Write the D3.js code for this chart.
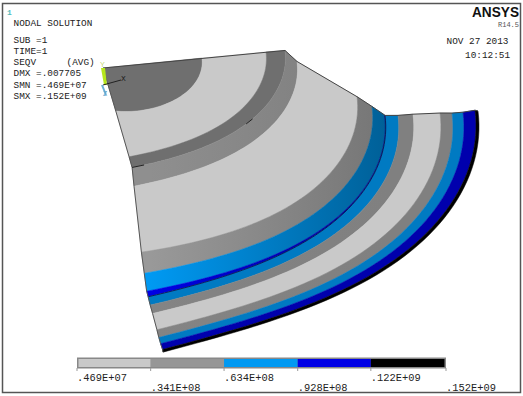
<!DOCTYPE html>
<html>
<head>
<meta charset="utf-8">
<script src="https://cdn.jsdelivr.net/npm/d3@7"></script>
<style>
html, body { margin: 0; padding: 0; background: #fff; }
svg { display: block; }
text { font-family: "Liberation Mono", monospace; fill: #222; }
</style>
</head>
<body>
<div id="chart"></div>
<script>
// Contour levels (legend)
const levelValues = [4.69e6, 3.41e7, 6.34e7, 9.28e7, 1.22e8, 1.52e8];
const levelLabels = [".469E+07", ".341E+08", ".634E+08", ".928E+08", ".122E+09", ".152E+09"];
const levelColors = ["#c9c9c9", "#969696", "#0099f2", "#0000e6", "#000000"];

const ringRadiusLeft  = [80, 163, 182, 194, 240, 258, 273, 282, 295, 310, 337, 349, 360, 372, 375];
const ringRadiusRight = [99, 163, 182, 194, 254, 269, 281.5, 282, 295, 310, 337, 349, 360, 372, 375];
// How far the surface has stepped down at that radius
const ringDrop = [-2, -3, -3, 9, 49, 60, 69.5, 70, 71, 71, 72, 73, 73, 72, 73];
// Contour level of each band
const bandLevel = [1, 0, 1, 1, 0, 1, 2, 3, 2, 1, 0, 1, 2, 3, 4];
// Lighting on each band, left end and right end
const bandShadeLeft  = [0.74, 1, 0.74, 0.95, 1, 1.02, 1, 1, 0.8, 0.88, 1, 0.88, 0.8, 0.75, 1];
const bandShadeRight = [0.74, 1, 0.74, 0.82, 1, 0.78, 0.62, 0.6, 0.8, 0.85, 1, 0.85, 0.8, 0.75, 1];

const width = 523, height = 396;

// Oblique view of the sector
const origin = { x: 103, y: 68 };
const leftAxis = { x: 0.16, y: 0.563 };
const rightAxis = { x: 1, y: -0.08 };
const sweep = 85 * Math.PI / 180;
const maxRadius = 375;

function project(r, t, drop) {
    const a = t * sweep;
    const p = Math.sin(sweep - a) / Math.sin(sweep);
    const q = Math.sin(a) / Math.sin(sweep);
    // the view is not quite affine, outer rings lift near the left face
    const lift = 0.062 * r * r / maxRadius * Math.sin(Math.PI * t) * Math.pow(1 - t, 3);
    return [
        origin.x + r * (p * leftAxis.x + q * rightAxis.x),
        origin.y + r * (p * leftAxis.y + q * rightAxis.y) + drop - lift
    ];
}

function ringPoints(i) {
    if (i < 0) return [project(0, 0, 0)];
    return d3.range(0, 1.001, 0.02).map(t =>
        project(ringRadiusLeft[i] + (ringRadiusRight[i] - ringRadiusLeft[i]) * d3.easeCubicOut(t), t, ringDrop[i]));
}

function shaded(color, k) {
    const c = d3.rgb(color);
    return d3.rgb(c.r * k, c.g * k, c.b * k).formatHex();
}

const svg = d3.select("#chart")
    .append("svg")
    .attr("width", width)
    .attr("height", height);

// Window frame
svg.append("rect")
    .attr("x", 2.5).attr("y", 3.5)
    .attr("width", 518).attr("height", 389)
    .attr("fill", "#fff")
    .attr("stroke", "#555")
    .attr("stroke-width", 1.5);

const defs = svg.append("defs");
const line = d3.line();

// Bands
bandLevel.forEach((level, i) => {
    const id = "band" + i;
    const grad = defs.append("linearGradient")
        .attr("id", id)
        .attr("gradientUnits", "userSpaceOnUse")
        .attr("x1", 150).attr("x2", 390)
        .attr("y1", 0).attr("y2", 0);
    grad.append("stop").attr("offset", 0).attr("stop-color", shaded(levelColors[level], bandShadeLeft[i]));
    grad.append("stop").attr("offset", 1).attr("stop-color", shaded(levelColors[level], bandShadeRight[i]));

    const pts = ringPoints(i).concat(ringPoints(i - 1).reverse());
    svg.append("path")
        .attr("d", line(pts) + "Z")
        .attr("fill", `url(#${id})`)
        .attr("stroke", `url(#${id})`)
        .attr("stroke-width", 0.5);
});

// Thin dark line where the surface steps
svg.append("path")
    .attr("d", line(ringPoints(7)))
    .attr("fill", "none")
    .attr("stroke", "#0a0a40")
    .attr("stroke-width", 0.8);

// Cut faces
const leftEdge = [project(0, 0, 0)].concat(ringRadiusLeft.map((r, i) => project(r, 0, ringDrop[i])));
const rightEdge = [project(0, 1, 0)].concat(ringRadiusRight.slice(2).map((r, i) => project(r, 1, ringDrop[i + 2])));
svg.append("path").attr("d", line(leftEdge)).attr("fill", "none").attr("stroke", "#555").attr("stroke-width", 1);
svg.append("path").attr("d", line(rightEdge)).attr("fill", "none").attr("stroke", "#444").attr("stroke-width", 1);

// Small marks on the crease
[[0.5, 0.54], [0, 0.045]].forEach(d => {
    svg.append("path")
        .attr("d", line(d.map(t => project(182, t, -3))))
        .attr("fill", "none")
        .attr("stroke", "#222")
        .attr("stroke-width", 1);
});

// Triad
svg.append("path").attr("d", "M101,68L105,68L107,85L104,85Z").attr("fill", "#b5e61d");
svg.append("path").attr("d", "M103,85L121,80").attr("stroke", "#222").attr("stroke-width", 1);
svg.append("path").attr("d", "M102,85L106,95").attr("stroke", "#6ab0d8").attr("stroke-width", 2);
svg.append("text").attr("x", 100).attr("y", 67).attr("font-size", 8).style("fill", "#c8d878").text("Y");
svg.append("text").attr("x", 121).attr("y", 81).attr("font-size", 8).text("X");
svg.append("text").attr("x", 103).attr("y", 96).attr("font-size", 7).style("fill", "#5aa0c8").text("Z");

// Legend bar
const legendX = d3.scaleLinear()
    .domain([levelValues[0], levelValues[levelValues.length - 1]])
    .range([77, 446]);

svg.append("rect")
    .attr("x", legendX.range()[0]).attr("y", 357.5)
    .attr("width", legendX.range()[1] - legendX.range()[0]).attr("height", 11)
    .attr("fill", "#888");

levelColors.forEach((c, i) => {
    svg.append("rect")
        .attr("x", legendX(levelValues[i]) + (i === 0 ? 1.5 : 0))
        .attr("y", 359)
        .attr("width", legendX(levelValues[i + 1]) - legendX(levelValues[i]) - (i === 0 || i === 4 ? 1.5 : 0))
        .attr("height", 8)
        .attr("fill", c);
});

levelLabels.forEach((label, i) => {
    const x = legendX(levelValues[i]);
    svg.append("line")
        .attr("x1", x).attr("x2", x)
        .attr("y1", 368).attr("y2", 371)
        .attr("stroke", "#999");
    svg.append("text")
        .attr("x", x)
        .attr("y", i % 2 === 0 ? 380.5 : 391)
        .attr("font-size", 10.4)
        .text(label);
});

// Annotation text
const notes = [
    ["NODAL SOLUTION", 13.5, 26],
    ["SUB =1", 13.5, 43],
    ["TIME=1", 13.5, 54],
    ["SEQV", 13.5, 65],
    ["(AVG)", 66.5, 65],
    ["DMX =.007705", 13.5, 76],
    ["SMN =.469E+07", 13.5, 88],
    ["SMX =.152E+09", 13.5, 99],
    ["NOV 27 2013", 446.5, 44],
    ["10:12:51", 465, 58]
];
notes.forEach(d => {
    svg.append("text")
        .attr("x", d[1]).attr("y", d[2])
        .attr("font-size", 9.4)
        .text(d[0]);
});

svg.append("text")
    .attr("x", 519).attr("y", 17)
    .attr("text-anchor", "end")
    .attr("font-size", 15)
    .attr("font-weight", "bold")
    .style("font-family", "'Liberation Sans', sans-serif")
    .style("fill", "#111")
    .attr("textLength", 47)
    .attr("lengthAdjust", "spacingAndGlyphs")
    .text("ANSYS");

svg.append("text")
    .attr("x", 519).attr("y", 27)
    .attr("text-anchor", "end")
    .attr("font-size", 7)
    .style("fill", "#555")
    .text("R14.5");

svg.append("text")
    .attr("x", 7).attr("y", 15)
    .attr("font-size", 8)
    .attr("font-weight", "bold")
    .style("fill", "#55bbbb")
    .text("1");
</script>
</body>
</html>
